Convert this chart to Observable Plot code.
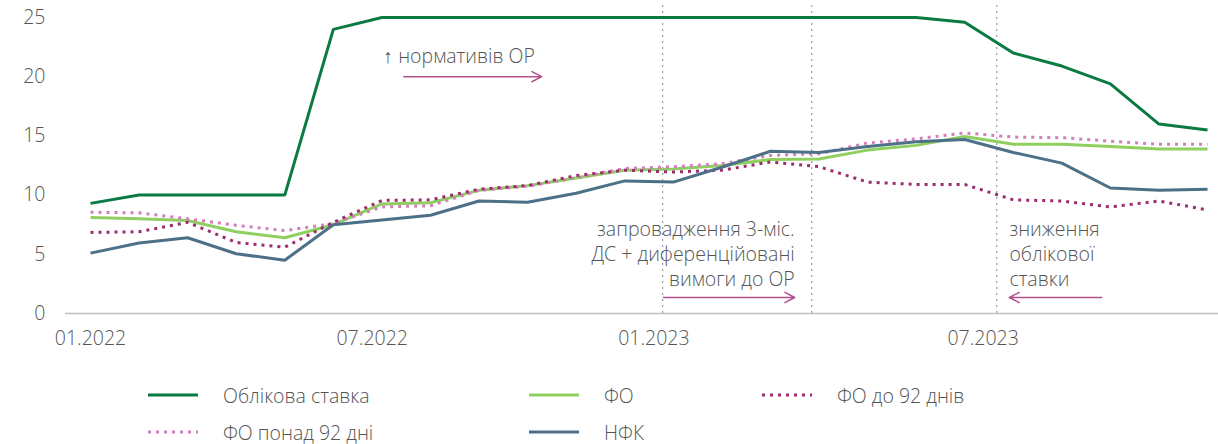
<!DOCTYPE html>
<html>
<head>
<meta charset="utf-8">
<script src="https://cdn.jsdelivr.net/npm/d3@7"></script>
<script src="https://cdn.jsdelivr.net/npm/@observablehq/plot@0.6"></script>
<style>
  body { margin: 0; background: #fff; font-family: "Open Sans", sans-serif; color: #555; font-weight: 300; }
  #wrap { width: 1218px; }
  #legend { position: relative; height: 84px; width: 1218px; font-size: 19.5px; color: #555; font-weight: 300; }
  .item { position: absolute; display: flex; align-items: center; height: 26px; white-space: nowrap; }
  .item svg { margin-right: 25px; }
</style>
</head>
<body>
<div id="wrap">
  <div id="chart"></div>
  <div id="legend"></div>
</div>
<script>
// Months (Jan 2022 – Dec 2023)
const months = ["01.2022","02.2022","03.2022","04.2022","05.2022","06.2022","07.2022","08.2022","09.2022","10.2022","11.2022","12.2022",
                "01.2023","02.2023","03.2023","04.2023","05.2023","06.2023","07.2023","08.2023","09.2023","10.2023","11.2023","12.2023"];

// Series values, %
const policyRate = [9.3,10,10,10,10,24,25,25,25,25,25,25,25,25,25,25,25,25,24.6,22,20.9,19.4,16,15.5];
const fo         = [8.1,8.0,7.85,6.9,6.4,7.5,9.25,9.35,10.4,10.8,11.45,12.1,12.2,12.5,13.0,13.05,13.8,14.2,14.95,14.3,14.3,14.1,13.9,13.9];
const foShort    = [6.85,6.9,7.7,6.0,5.6,7.7,9.55,9.6,10.5,10.8,11.65,12.1,11.95,12.1,12.8,12.4,11.1,10.9,10.9,9.6,9.5,9.0,9.5,8.75];
const foLong     = [8.55,8.5,8.0,7.45,7.0,7.6,9.0,9.1,10.4,10.75,11.45,12.25,12.4,12.65,13.35,13.5,14.4,14.75,15.25,14.9,14.85,14.55,14.3,14.3];
const nfk        = [5.1,5.95,6.4,5.05,4.5,7.5,7.9,8.3,9.5,9.4,10.15,11.2,11.1,12.35,13.7,13.6,14.1,14.5,14.7,13.6,12.7,10.6,10.4,10.5];

// Axis ticks
const yTicks = [0,5,10,15,20,25];
const xTickPos = [0, 5.8, 11.6, 18.38];
const xTickLabels = ["01.2022","07.2022","01.2023","07.2023"];

// Event markers (month index, fractional)
const eventX = [11.78, 14.85, 18.66];

// Annotations
const notesStart = [
  {x: 6.03, y: 21.8, text: "↑ нормативів ОР"},
  {x: 18.92, y: 5.1, text: "зниження\nоблікової\nставки"}
];
const notesEnd = [
  {x: 14.5, y: 5.1, text: "запровадження 3-міс.\nДС + диференційовані\nвимоги до ОР"}
];
const arrows = [
  {x1: 6.45, x2: 9.29, y: 20.0},
  {x1: 11.8, x2: 14.5, y: 1.35},
  {x1: 20.82, x2: 18.92, y: 1.35}
];

const series = [
  {name: "Облікова ставка", values: policyRate, color: "#0b7a42", dash: null},
  {name: "ФО", values: fo, color: "#8fcf5f", dash: null},
  {name: "ФО понад 92 дні", values: foLong, color: "#d27fc0", dash: "3,5"},
  {name: "ФО до 92 днів", values: foShort, color: "#9b2d6f", dash: "3,5"},
  {name: "НФК", values: nfk, color: "#4d7089", dash: null}
];

const lineMarks = series.map(s =>
  Plot.line(s.values.map((v, i) => ({i, v})), {
    x: "i", y: "v", stroke: s.color, strokeWidth: 3,
    strokeDasharray: s.dash || undefined, strokeLinejoin: "miter", strokeLinecap: "butt"
  })
);

const FS = 19.5;
const chart = Plot.plot({
  width: 1218,
  height: 360,
  marginLeft: 65,
  marginRight: 0,
  marginTop: 17,
  marginBottom: 47,
  style: {fontSize: FS + "px", fontFamily: "'Open Sans', sans-serif", fontWeight: 300, color: "#555", background: "#fff"},
  x: {type: "linear", domain: [-0.515, 23.226]},
  y: {domain: [0, 25]},
  marks: [
    Plot.ruleX(eventX, {y1: 0, y2: 26, stroke: "#9a9a9a", strokeWidth: 1.2, strokeDasharray: "2,4"}),
    Plot.ruleY([0], {stroke: "#bfbfbf", strokeWidth: 1.5}),
    Plot.axisY({ticks: yTicks, tickSize: 0, tickPadding: 20, label: null, fontSize: FS}),
    Plot.axisX({ticks: xTickPos, tickFormat: (d, i) => xTickLabels[i], tickSize: 0, tickPadding: 18, label: null, fontSize: FS}),
    ...lineMarks,
    Plot.text(notesStart, {x: "x", y: "y", text: "text", textAnchor: "start", fill: "#555", fontSize: FS, fontWeight: 300, lineHeight: 1.28}),
    Plot.text(notesEnd, {x: "x", y: "y", text: "text", textAnchor: "end", fill: "#555", fontSize: FS, fontWeight: 300, lineHeight: 1.28}),
    Plot.arrow(arrows, {x1: "x1", x2: "x2", y1: "y", y2: "y", stroke: "#b5508f", strokeWidth: 1.5, headLength: 11, headAngle: 55, bend: 0})
  ]
});
document.getElementById("chart").appendChild(chart);

// Legend
const legendPos = [
  {left: 148, top: 22}, {left: 529, top: 22}, {left: 762, top: 22},
  {left: 148, top: 59}, {left: 529, top: 59}
];
const legendOrder = ["Облікова ставка", "ФО", "ФО до 92 днів", "ФО понад 92 дні", "НФК"];
const legend = document.getElementById("legend");
legendOrder.forEach((name, k) => {
  const s = series.find(d => d.name === name);
  const div = document.createElement("div");
  div.className = "item";
  div.style.left = legendPos[k].left + "px";
  div.style.top = legendPos[k].top + "px";
  div.innerHTML = `<svg width="50" height="10"><line x1="0" x2="50" y1="5" y2="5" stroke="${s.color}" stroke-width="3" ${s.dash ? `stroke-dasharray="${s.dash}"` : ""}/></svg><span>${name}</span>`;
  legend.appendChild(div);
});
</script>
</body>
</html>
